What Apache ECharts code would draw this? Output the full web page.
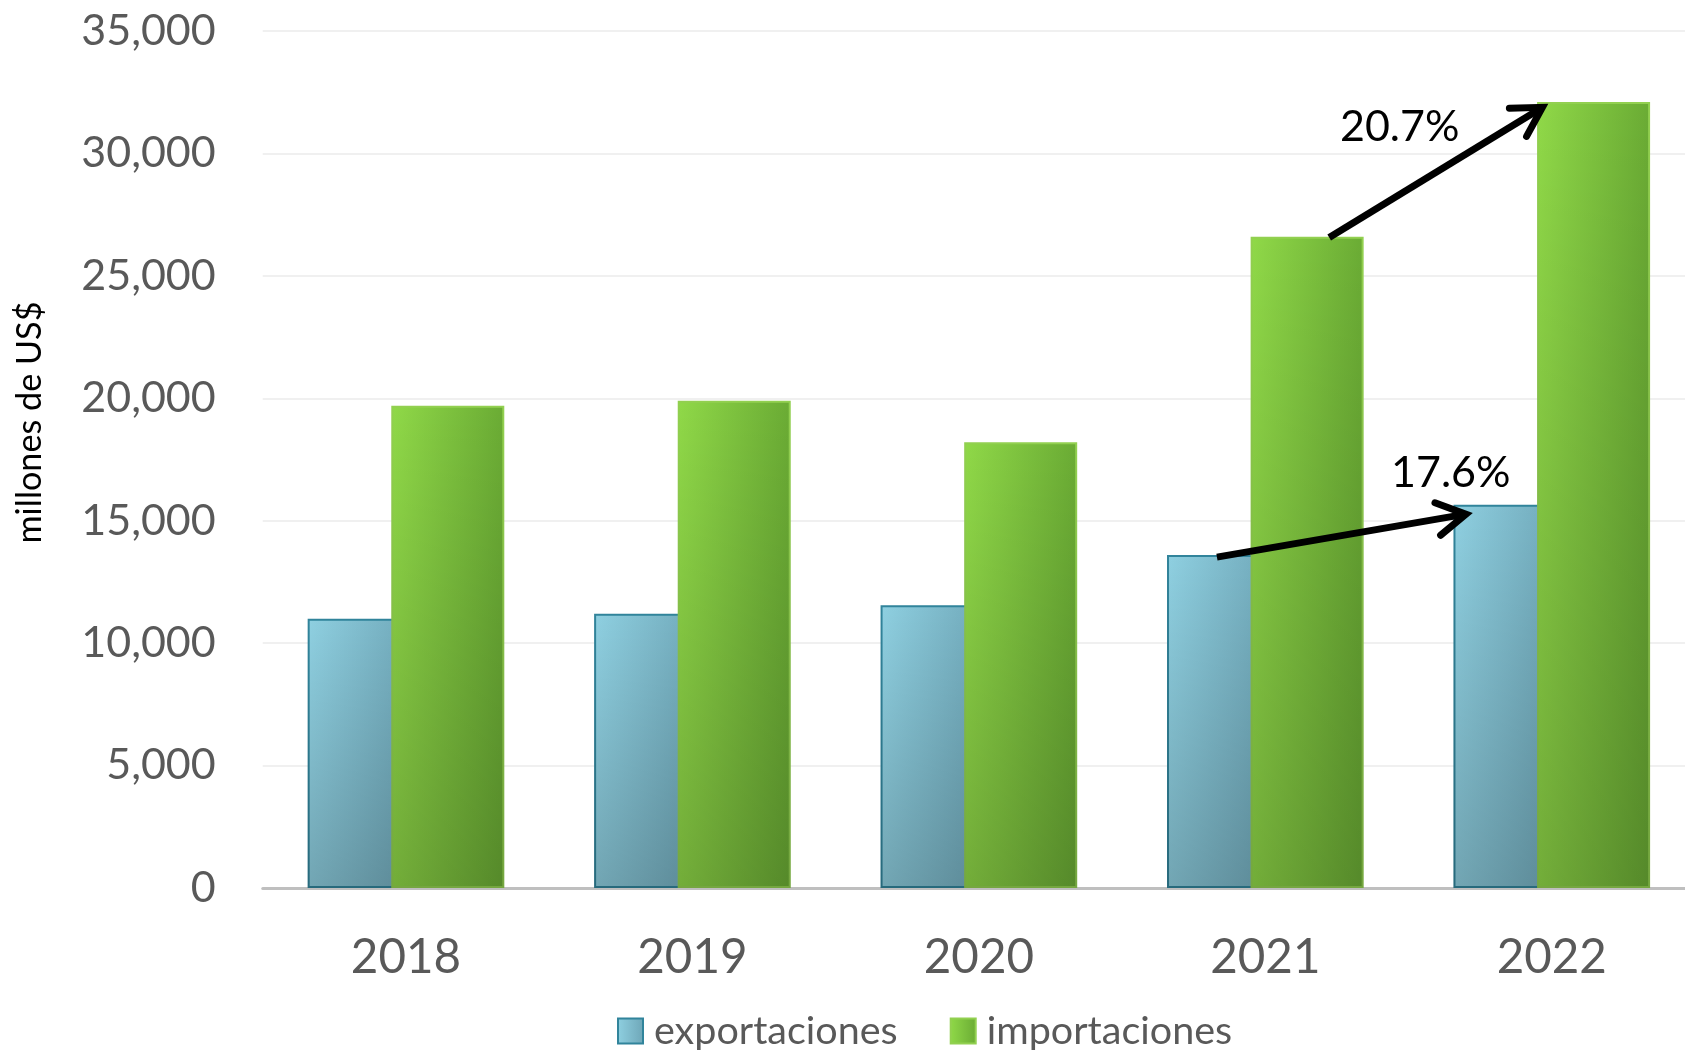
<!DOCTYPE html>
<html>
<head>
<meta charset="utf-8">
<script src="https://cdn.jsdelivr.net/npm/echarts@6/dist/echarts.min.js"></script>
<style>
html,body{margin:0;padding:0;background:#fff;}
#chart{width:1685px;height:1050px;}
</style>
</head>
<body>
<div id="chart"></div>
<script>
// ---- data ----
const years = ['2018', '2019', '2020', '2021', '2022'];
const exportaciones = [11000, 11200, 11550, 13600, 15650];
const importaciones = [19700, 19900, 18200, 26600, 32100];
const yMin = 0, yMax = 35000, yStep = 5000;
// annotation arrows: [xFrom(category index), yFrom, xTo, yTo]
const arrowData = [
  [2.831, 13515, 3.721, 15310],
  [3.223, 26568, 3.985, 32010]
];
const arrowLabels = ['17.6%', '20.7%'];
const arrowLabelPos = [
  [3.6475, 16950],
  [3.469, 31055]
];

const FONT = 'Lato, "Open Sans", sans-serif';
const chart = echarts.init(document.getElementById('chart'));

const expColor = {type:'linear', x:0, y:0, x2:1, y2:0, colorStops:[
  {offset:0, color:'#8fd0e1'}, {offset:1, color:'#6ea6b7'}]};
const impColor = {type:'linear', x:0, y:0, x2:1, y2:0, colorStops:[
  {offset:0, color:'#90d948'}, {offset:1, color:'#6aab34'}]};
const shade = {type:'linear', x:0, y:0, x2:0, y2:1, colorStops:[
  {offset:0, color:'rgba(0,0,0,0)'}, {offset:1, color:'rgba(0,0,0,0.2)'}]};

const BW = 113, GAP = '-26%';

function renderArrow(params, api) {
  const p0 = api.coord([api.value(0), api.value(1)]);
  const p1 = api.coord([api.value(2), api.value(3)]);
  const ang = Math.atan2(p1[1] - p0[1], p1[0] - p0[0]);
  const c = Math.cos(ang), s = Math.sin(ang);
  const tip = [p1[0] - 6 * c, p1[1] - 6 * s];
  const L = 33, a = Math.PI / 6;
  const w1 = [tip[0] - L * Math.cos(ang - a), tip[1] - L * Math.sin(ang - a)];
  const w2 = [tip[0] - L * Math.cos(ang + a), tip[1] - L * Math.sin(ang + a)];
  return {
    type: 'group',
    children: [
      {type:'line', shape:{x1:p0[0], y1:p0[1], x2:tip[0] - 3 * c, y2:tip[1] - 3 * s},
       style:{stroke:'#000', lineWidth:7, lineCap:'butt'}},
      {type:'polyline', shape:{points:[w1, tip, w2]},
       style:{stroke:'#000', lineWidth:7, lineCap:'round', lineJoin:'miter', fill:null}}
    ]
  };
}

function renderLabel(params, api) {
  const p = api.coord([api.value(0), api.value(1)]);
  return {
    type: 'text',
    style: {
      text: arrowLabels[params.dataIndex],
      x: p[0], y: p[1],
      fill: '#000',
      font: '43px ' + FONT,
      align: 'center', verticalAlign: 'middle'
    }
  };
}

chart.setOption({
  animation: false,
  backgroundColor: '#fff',
  grid: {left: 262.75, width: 1432.25, top: 31, bottom: 162, containLabel: false, outerBoundsMode: 'none'},
  legend: {
    data: ['exportaciones', 'importaciones'],
    left: 617, top: 1011, padding: 0,
    itemWidth: 25, itemHeight: 25, itemGap: 52,
    icon: 'rect',
    textStyle: {fontFamily: FONT, fontSize: 39.5, color: '#595959', padding: [0, 0, 0, 6]}
  },
  xAxis: [
    {
      type: 'category', data: years, gridIndex: 0,
      axisLine: {show: true, lineStyle: {color: '#bfbfbf', width: 3}},
      axisTick: {show: false},
      axisLabel: {color: '#595959', fontFamily: FONT, fontSize: 47.5, margin: 46},
      splitLine: {show: false}
    },
    {
      type: 'category', data: years, gridIndex: 0, show: false
    },
    {
      type: 'value', min: -0.5, max: 4.5, gridIndex: 0, show: false
    }
  ],
  yAxis: {
    type: 'value', min: yMin, max: yMax, interval: yStep,
    name: 'millones de US$', nameLocation: 'middle', nameRotate: 90, nameGap: 216,
    nameTextStyle: {color: '#000', fontFamily: FONT, fontSize: 34.2, padding: [0, 0, 0, 74]},
    axisLine: {show: false}, axisTick: {show: false},
    axisLabel: {color: '#595959', fontFamily: FONT, fontSize: 43, margin: 47,
      formatter: v => v.toLocaleString('en-US')},
    splitLine: {lineStyle: {color: '#f0f0f0', width: 2}}
  },
  series: [
    {
      name: 'exportaciones', type: 'bar', xAxisIndex: 0, data: exportaciones,
      barWidth: BW, barGap: GAP,
      itemStyle: {color: expColor, borderColor: '#31849b', borderWidth: 2}
    },
    {
      name: 'exp-shade', type: 'bar', xAxisIndex: 1, data: exportaciones,
      barWidth: BW, barGap: GAP, silent: true,
      itemStyle: {color: shade}
    },
    {
      name: 'importaciones', type: 'bar', xAxisIndex: 0, data: importaciones,
      barWidth: BW, barGap: GAP,
      itemStyle: {color: impColor, borderColor: '#92d050', borderWidth: 2}
    },
    {
      name: 'imp-shade', type: 'bar', xAxisIndex: 1, data: importaciones,
      barWidth: BW, barGap: GAP, silent: true,
      itemStyle: {color: shade}
    },
    {
      name: 'arrows', type: 'custom', xAxisIndex: 2, yAxisIndex: 0,
      data: arrowData, encode: {x: [0, 2], y: [1, 3]},
      renderItem: renderArrow, z: 10, silent: true
    },
    {
      name: 'arrowLabels', type: 'custom', xAxisIndex: 2, yAxisIndex: 0,
      data: arrowLabelPos, encode: {x: 0, y: 1},
      renderItem: renderLabel, z: 10, silent: true
    }
  ]
});
</script>
</body>
</html>
